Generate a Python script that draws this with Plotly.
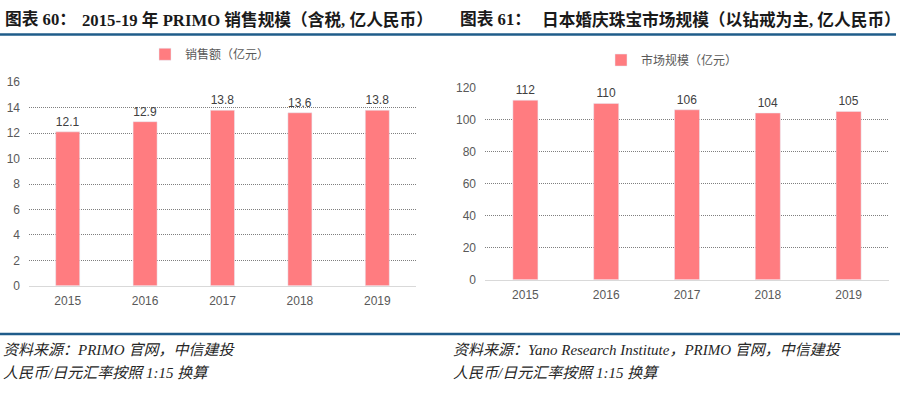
import plotly.graph_objects as go

years = ["2015", "2016", "2017", "2018", "2019"]
primo_sales = [12.1, 12.9, 13.8, 13.6, 13.8]
japan_market = [112, 110, 106, 104, 105]
primo_labels = ["12.1", "12.9", "13.8", "13.6", "13.8"]
japan_labels = ["112", "110", "106", "104", "105"]
left_yticks = [0, 2, 4, 6, 8, 10, 12, 14, 16]
right_yticks = [0, 20, 40, 60, 80, 100, 120]

W, H = 900, 396
BAR = "#ff7c80"
TXT = "#404040"
TICK = "#595959"
CJK = "Noto Sans CJK SC"
NUM = "Liberation Sans, Noto Sans CJK SC"

def px(x):
    return x / W

def py(y):
    return 1 - y / H

fig = go.Figure()
fig.add_trace(go.Bar(
    x=years, y=primo_sales, name="销售额（亿元）", marker_color=BAR,
    text=primo_labels, textposition="outside", cliponaxis=False,
    textfont=dict(size=12, color=TXT, family=NUM),
    xaxis="x", yaxis="y", legend="legend", showlegend=True,
))
fig.add_trace(go.Bar(
    x=years, y=japan_market, name="市场规模（亿元）", marker_color=BAR,
    text=japan_labels, textposition="outside", cliponaxis=False,
    textfont=dict(size=12, color=TXT, family=NUM),
    xaxis="x2", yaxis="y2", legend="legend2", showlegend=True,
))

grid = dict(showgrid=True, gridcolor="#7f7f7f", griddash="1px,1px", gridwidth=1,
            zeroline=False, ticks="", ticklabelstandoff=8,
            tickfont=dict(size=12, color=TICK, family=NUM), fixedrange=True)
xcommon = dict(showgrid=False, showline=True, linecolor="#d9d9d9", linewidth=1,
               ticks="", ticklabelstandoff=4,
               tickfont=dict(size=12, color=TICK, family=NUM), fixedrange=True)

fig.update_layout(
    width=W, height=H, margin=dict(l=0, r=0, t=0, b=0),
    paper_bgcolor="white", plot_bgcolor="white",
    bargap=0.69, showlegend=True,
    xaxis=dict(domain=[px(29), px(416)], anchor="y", **xcommon),
    yaxis=dict(domain=[py(289), py(78)], range=[0, 16], tickvals=left_yticks,
               anchor="x", **grid),
    xaxis2=dict(domain=[px(485), px(889)], anchor="y2", **xcommon),
    yaxis2=dict(domain=[py(282.7), py(83.3)], range=[0, 120], tickvals=right_yticks,
                anchor="x2", **grid),
    legend=dict(x=px(210), y=py(49), xanchor="center", yanchor="middle",
                orientation="h", itemwidth=30, bgcolor="rgba(0,0,0,0)",
                font=dict(size=12, color=TICK, family=CJK)),
    legend2=dict(x=px(672), y=py(55), xanchor="center", yanchor="middle",
                 orientation="h", itemwidth=30, bgcolor="rgba(0,0,0,0)",
                 font=dict(size=12, color=TICK, family=CJK)),
    font=dict(family=CJK),
)

title_font = dict(size=16.7, color="#1a1a1a", family="Liberation Serif, Noto Sans CJK SC", weight="bold")
ann = []
ann.append(dict(text="图表 60：", x=px(3), y=py(13), xanchor="left", yanchor="middle"))
ann.append(dict(text="2015-19 年 PRIMO 销售规模（含税, 亿人民币）", x=px(80), y=py(13),
                xanchor="left", yanchor="middle"))
ann.append(dict(text="图表 61：", x=px(458), y=py(13), xanchor="left", yanchor="middle"))
ann.append(dict(text="日本婚庆珠宝市场规模（以钻戒为主, 亿人民币）", x=px(540), y=py(13),
                xanchor="left", yanchor="middle"))
for a in ann:
    a.update(xref="paper", yref="paper", showarrow=False, font=title_font)

src_font = dict(size=15, color="#262626", family="Liberation Serif, Noto Sans CJK SC", style="italic")
src = [
    ("资料来源：PRIMO 官网，中信建投", 1, 356),
    ("人民币/日元汇率按照 1:15 换算", 1, 379),
    ("资料来源：Yano Research Institute，PRIMO 官网，中信建投", 451, 356),
    ("人民币/日元汇率按照 1:15 换算", 451, 379),
]
for t, x, y in src:
    ann.append(dict(text=t, x=px(x), y=py(y), xanchor="left", yanchor="middle",
                    xref="paper", yref="paper", showarrow=False, font=src_font))
fig.update_layout(annotations=ann)

LINE = "#1f5c8a"
fig.add_shape(type="line", xref="paper", yref="paper", x0=0, x1=px(896), y0=py(28.5), y1=py(28.5),
              line=dict(color=LINE, width=2.5))
fig.add_shape(type="line", xref="paper", yref="paper", x0=0, x1=px(900), y0=py(339), y1=py(339),
              line=dict(color=LINE, width=2.5))

fig.write_html("out.html", config={"displayModeBar": False},
               post_script="document.body.style.margin='0px';document.body.style.padding='0px';")
